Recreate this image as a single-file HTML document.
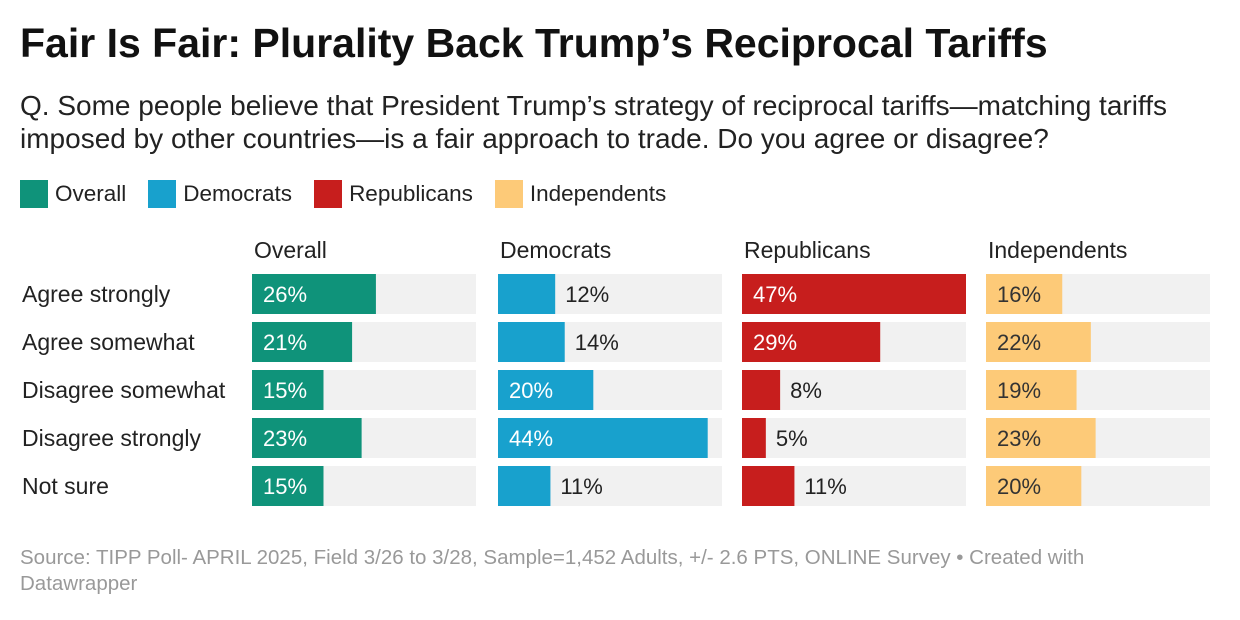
<!DOCTYPE html>
<html><head><meta charset="utf-8"><style>
body{margin:0;width:1240px;height:620px;background:#fff;font-family:"Liberation Sans",sans-serif;color:#222;position:relative;overflow:hidden}
.t{position:absolute;left:20px;top:20px;font-size:41px;font-weight:bold;color:#111;white-space:nowrap}
.s{position:absolute;left:20px;top:89px;font-size:28px;line-height:33px;color:#222;width:1200px;white-space:nowrap}
.lg{position:absolute;top:180px;left:20px;display:flex;font-size:22.5px;color:#222}
.lg span{display:flex;align-items:center;margin-right:22px}
.lg i{display:inline-block;width:28px;height:28px;margin-right:7px}
.src{position:absolute;left:20px;top:545px;font-size:20.5px;line-height:26px;color:#999;width:1150px}
</style></head><body>
<div class="t">Fair Is Fair: Plurality Back Trump’s Reciprocal Tariffs</div>
<div class="s">Q. Some people believe that President Trump’s strategy of reciprocal tariffs—matching tariffs<br>imposed by other countries—is a fair approach to trade. Do you agree or disagree?</div>
<div class="lg">
<span><i style="background:#0f937a"></i>Overall</span>
<span><i style="background:#18a1cd"></i>Democrats</span>
<span><i style="background:#c71e1d"></i>Republicans</span>
<span><i style="background:#fdca78"></i>Independents</span>
</div>
<svg id="ch" width="1240" height="620" style="position:absolute;left:0;top:0"></svg>
<div class="src">Source: TIPP Poll- APRIL 2025, Field 3/26 to 3/28, Sample=1,452 Adults, +/- 2.6 PTS, ONLINE Survey • Created with Datawrapper</div>
<script>
const categories=["Agree strongly","Agree somewhat","Disagree somewhat","Disagree strongly","Not sure"];
const groups=["Overall","Democrats","Republicans","Independents"];
const overall=[26,21,15,23,15];
const democrats=[12,14,20,44,11];
const republicans=[47,29,8,5,11];
const independents=[16,22,19,23,20];
const series=[overall,democrats,republicans,independents];
const colors=["#0f937a","#18a1cd","#c71e1d","#fdca78"];
const txtIn=["#fff","#fff","#fff","#333"];
const NS="http://www.w3.org/2000/svg",svg=document.getElementById("ch");
const maxV=47,panelW=224,panelX=[252,498,742,986],rowY0=274,rowH=48,barH=40;
const x=v=>v/maxV*panelW, y=i=>rowY0+i*rowH;
function mk(t,a){const e=document.createElementNS(NS,t);for(const k in a)e.setAttribute(k,a[k]);svg.appendChild(e);return e;}
categories.forEach((c,i)=>{const e=mk("text",{x:22,y:y(i)+28,"font-size":23,fill:"#222"});e.textContent=c;

});
groups.forEach((g,p)=>{
const h=mk("text",{x:panelX[p]+2,y:258,"font-size":23,fill:"#222"});h.textContent=g;


series[p].forEach((v,i)=>{
const bg=mk("rect",{x:panelX[p],y:y(i),width:panelW,height:barH,fill:"#f1f1f1"});


const w=x(v);
const r=mk("rect",{x:panelX[p],y:y(i),width:w,height:barH,fill:colors[p]});


const inside=w>69;
const t=mk("text",{x:inside?panelX[p]+11:panelX[p]+w+10,y:y(i)+28,"font-size":22,fill:inside?txtIn[p]:"#222"});
t.textContent=v+"%";


});});
</script>
</body></html>
